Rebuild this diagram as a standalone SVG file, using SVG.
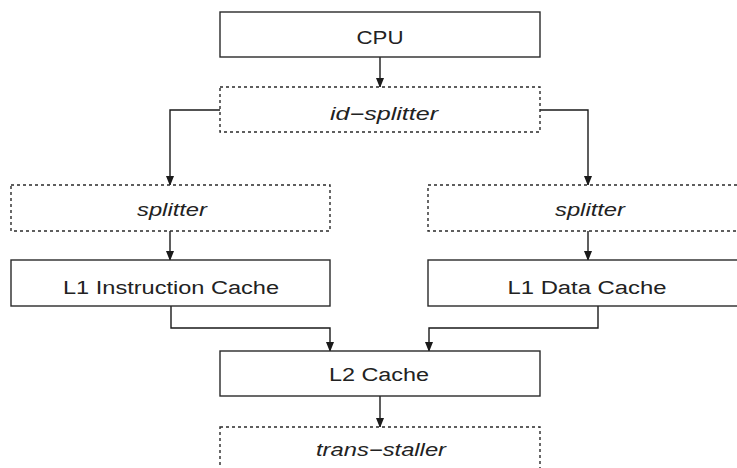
<svg xmlns="http://www.w3.org/2000/svg" width="737" height="468" viewBox="0 0 737 468">
<style>
.box{fill:#fff;stroke:#2a2a2a;stroke-width:1.4}
.dbox{fill:#fff;stroke:#2a2a2a;stroke-width:1.4;stroke-dasharray:3 3}
.lbl{font-family:"Liberation Sans",Arial,sans-serif;font-size:18px;fill:#222;text-anchor:middle}
.it{font-style:italic}
.con{fill:none;stroke:#1a1a1a;stroke-width:1.4}
</style>
<defs>
<marker id="ah" markerWidth="10" markerHeight="10" refX="9" refY="4" orient="auto" markerUnits="userSpaceOnUse">
<path d="M0,0 L10,4 L0,8 Z" fill="#1a1a1a"/>
</marker>
</defs>
<rect width="737" height="468" fill="#fff"/>
<g id="connectors">
<path class="con" d="M380,57 V87" marker-end="url(#ah)"/>
<path class="con" d="M220,110 H170 V185" marker-end="url(#ah)"/>
<path class="con" d="M540,110 H588 V185" marker-end="url(#ah)"/>
<path class="con" d="M170,231 V260" marker-end="url(#ah)"/>
<path class="con" d="M588,231 V260" marker-end="url(#ah)"/>
<path class="con" d="M171,306 V328 H330 V351" marker-end="url(#ah)"/>
<path class="con" d="M598,306 V328 H429 V351" marker-end="url(#ah)"/>
<path class="con" d="M380,396 V427" marker-end="url(#ah)"/>
</g>
<g id="cpu">
<rect class="box" x="220" y="12" width="320" height="45"/>
<text class="lbl" x="380" y="44" textLength="47" lengthAdjust="spacingAndGlyphs">CPU</text>
</g>
<g id="id-splitter">
<rect class="dbox" x="220" y="87" width="320" height="45"/>
<text class="lbl it" x="384" y="120" textLength="108" lengthAdjust="spacingAndGlyphs">id−splitter</text>
</g>
<g id="splitter-left">
<rect class="dbox" x="11" y="185" width="319" height="46"/>
<text class="lbl it" x="172" y="216" textLength="70" lengthAdjust="spacingAndGlyphs">splitter</text>
</g>
<g id="splitter-right">
<rect class="dbox" x="428" y="185" width="320" height="46"/>
<text class="lbl it" x="590" y="216" textLength="70" lengthAdjust="spacingAndGlyphs">splitter</text>
</g>
<g id="l1-instruction">
<rect class="box" x="11" y="260" width="319" height="46"/>
<text class="lbl" x="171" y="294" textLength="216" lengthAdjust="spacingAndGlyphs">L1 Instruction Cache</text>
</g>
<g id="l1-data">
<rect class="box" x="428" y="260" width="320" height="46"/>
<text class="lbl" x="587" y="294" textLength="159" lengthAdjust="spacingAndGlyphs">L1 Data Cache</text>
</g>
<g id="l2">
<rect class="box" x="220" y="351" width="320" height="45"/>
<text class="lbl" x="379" y="381" textLength="100" lengthAdjust="spacingAndGlyphs">L2 Cache</text>
</g>
<g id="trans-staller">
<rect class="dbox" x="220" y="427" width="320" height="50"/>
<text class="lbl it" x="381" y="456" textLength="130" lengthAdjust="spacingAndGlyphs">trans−staller</text>
</g>
</svg>
